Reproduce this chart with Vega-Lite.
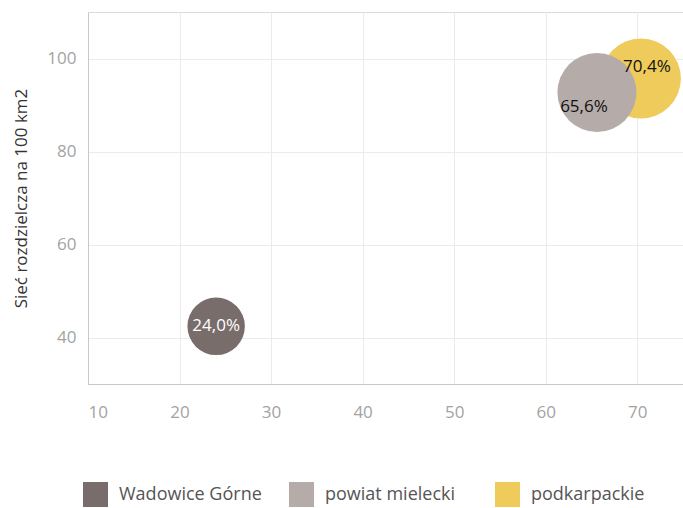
{
  "$schema": "https://vega.github.io/schema/vega-lite/v6.json",
  "width": 595,
  "height": 372,
  "autosize": {"type": "none"},
  "padding": {"left": 88, "top": 12, "right": 0, "bottom": 124},
  "background": "white",
  "config": {
    "font": "Open Sans",
    "view": {"stroke": "#dcdcdc", "strokeWidth": 1}
  },
  "data": {
    "values": [
      {"obszar": "podkarpackie", "x": 70.4, "y": 95.7, "rozmiar": 6400, "etykieta": "70,4%"},
      {"obszar": "powiat mielecki", "x": 65.6, "y": 92.7, "rozmiar": 6250, "etykieta": "65,6%"},
      {"obszar": "Wadowice Górne", "x": 24.0, "y": 42.4, "rozmiar": 3300, "etykieta": "24,0%"}
    ]
  },
  "encoding": {
    "x": {
      "field": "x", "type": "quantitative",
      "scale": {"domain": [10, 75], "nice": false, "zero": false},
      "axis": {
        "title": null, "values": [10, 20, 30, 40, 50, 60, 70],
        "grid": true, "gridColor": "#ebebeb", "domainColor": "#c8c8c8",
        "ticks": false, "labelPadding": 20, "labelFontSize": 17,
        "labelColor": "#a3a3a3", "labelFlush": true
      }
    },
    "y": {
      "field": "y", "type": "quantitative",
      "scale": {"domain": [30, 110], "nice": false, "zero": false},
      "axis": {
        "title": "Sieć rozdzielcza na 100 km2",
        "values": [40, 60, 80, 100],
        "grid": true, "gridColor": "#ebebeb", "domainColor": "#c8c8c8",
        "ticks": false, "labelPadding": 12, "labelFontSize": 17,
        "labelColor": "#a3a3a3", "titleFontSize": 17, "titleFontWeight": "normal",
        "titleColor": "#333333", "titlePadding": 16
      }
    }
  },
  "layer": [
    {
      "mark": {"type": "point", "filled": true, "opacity": 1, "strokeWidth": 0},
      "encoding": {
        "color": {
          "field": "obszar", "type": "nominal",
          "scale": {
            "domain": ["Wadowice Górne", "powiat mielecki", "podkarpackie"],
            "range": ["#786d6b", "#b5aca9", "#eecb5a"]
          },
          "legend": {
            "title": null, "orient": "none", "legendX": -5, "legendY": 470,
            "direction": "horizontal", "columns": 3, "gridAlign": "all",
            "symbolType": "square", "symbolSize": 625, "symbolStrokeWidth": 0,
            "labelFontSize": 18, "labelColor": "#555555", "labelOffset": 11,
            "columnPadding": 27
          }
        },
        "size": {
          "field": "rozmiar", "type": "quantitative",
          "scale": {"domain": [0, 6400], "range": [0, 6400]},
          "legend": null
        }
      }
    },
    {
      "transform": [{"filter": "datum.obszar === 'Wadowice Górne'"}],
      "mark": {"type": "text", "fontSize": 17, "color": "white"},
      "encoding": {"text": {"field": "etykieta"}}
    },
    {
      "transform": [{"filter": "datum.obszar === 'powiat mielecki'"}],
      "mark": {"type": "text", "fontSize": 17, "color": "#111111", "dx": -13, "dy": 15},
      "encoding": {"text": {"field": "etykieta"}}
    },
    {
      "transform": [{"filter": "datum.obszar === 'podkarpackie'"}],
      "mark": {"type": "text", "fontSize": 17, "color": "#111111", "dx": 6, "dy": -11},
      "encoding": {"text": {"field": "etykieta"}}
    }
  ]
}
